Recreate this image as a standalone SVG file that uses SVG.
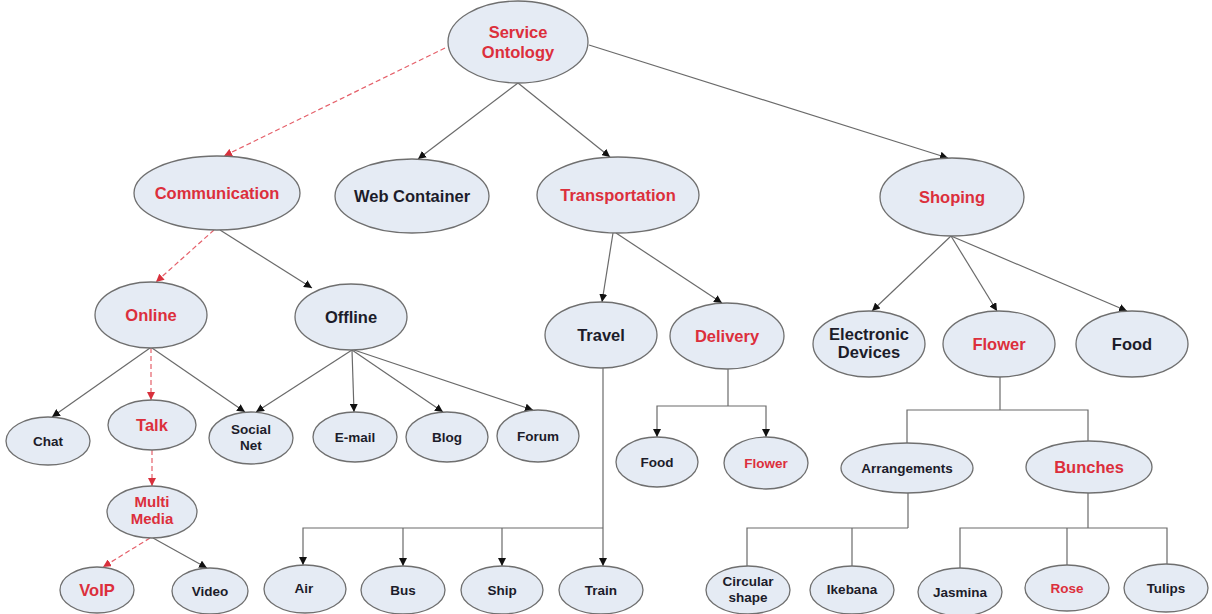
<svg xmlns="http://www.w3.org/2000/svg" width="1212" height="614" viewBox="0 0 1212 614">
  <defs>
    <marker id="arr" viewBox="0 0 10 10" refX="10" refY="5" markerWidth="8" markerHeight="8" markerUnits="userSpaceOnUse" orient="auto">
      <path d="M0,0 L10,5 L0,10 z" fill="#111"/>
    </marker>
    <marker id="arr-red" viewBox="0 0 10 10" refX="10" refY="5" markerWidth="8" markerHeight="8" markerUnits="userSpaceOnUse" orient="auto">
      <path d="M0,0 L10,5 L0,10 z" fill="#d8303c"/>
    </marker>
    <style>
      .node ellipse { fill: #e5ebf4; stroke: #6f6f6f; stroke-width: 1.3; }
      .node text { font-family: "Liberation Sans", Arial, sans-serif; font-weight: bold; text-anchor: middle; fill: #1c1c2a; }
      .node text.red { fill: #dc2f3c; }
      .big { font-size: 16.5px; }
      .mid { font-size: 15px; }
      .small { font-size: 13.5px; }
      .link { fill: none; stroke: #6a6a6a; stroke-width: 1.2; }
      .link.arrow { marker-end: url(#arr); }
      .link.dash { stroke: #e5606a; stroke-dasharray: 5 3; marker-end: url(#arr-red); }
    </style>
  </defs>
  <rect width="1212" height="614" fill="#ffffff"/>

  <g id="connectors">
    <!-- root level -->
    <line class="link dash" x1="445" y1="48" x2="224" y2="156"/>
    <line class="link arrow" x1="518" y1="83" x2="418" y2="159"/>
    <line class="link arrow" x1="518" y1="83" x2="610" y2="157"/>
    <line class="link arrow" x1="589" y1="45" x2="948" y2="158"/>
    <!-- communication -->
    <line class="link dash" x1="214" y1="230" x2="156" y2="282"/>
    <line class="link arrow" x1="220" y1="230" x2="312" y2="288"/>
    <line class="link arrow" x1="150" y1="348" x2="52" y2="417"/>
    <line class="link dash" x1="151" y1="348" x2="151" y2="400"/>
    <line class="link arrow" x1="152" y1="348" x2="245" y2="412"/>
    <line class="link arrow" x1="352" y1="350" x2="256" y2="412"/>
    <line class="link arrow" x1="352" y1="350" x2="354" y2="412"/>
    <line class="link arrow" x1="352" y1="350" x2="443" y2="412"/>
    <line class="link arrow" x1="354" y1="350" x2="533" y2="410"/>
    <line class="link dash" x1="152" y1="450" x2="152" y2="486"/>
    <line class="link dash" x1="150" y1="538" x2="103" y2="567"/>
    <line class="link arrow" x1="153" y1="538" x2="207" y2="568"/>
    <!-- transportation -->
    <line class="link arrow" x1="613" y1="233" x2="602" y2="302"/>
    <line class="link arrow" x1="616" y1="233" x2="722" y2="303"/>
    <line class="link arrow" x1="603" y1="368" x2="603" y2="566"/>
    <polyline class="link arrow" points="603,528 303,528 303,565"/>
    <line class="link arrow" x1="403" y1="528" x2="403" y2="566"/>
    <line class="link arrow" x1="502" y1="528" x2="502" y2="566"/>
    <line class="link" x1="728" y1="369" x2="728" y2="406"/>
    <polyline class="link arrow" points="728,406 657,406 657,437"/>
    <polyline class="link arrow" points="728,406 766,406 766,437"/>
    <!-- shopping -->
    <line class="link arrow" x1="951" y1="236" x2="872" y2="311"/>
    <line class="link arrow" x1="951" y1="236" x2="997" y2="311"/>
    <line class="link arrow" x1="951" y1="236" x2="1127" y2="311"/>
    <line class="link" x1="1000" y1="377" x2="1000" y2="410"/>
    <polyline class="link" points="907,443 907,410 1088,410 1088,441"/>
    <line class="link" x1="908" y1="493" x2="908" y2="528"/>
    <polyline class="link" points="747,566 747,528 908,528"/>
    <line class="link" x1="852" y1="528" x2="852" y2="566"/>
    <line class="link" x1="1088" y1="493" x2="1088" y2="528"/>
    <polyline class="link" points="960,568 960,528 1167,528 1167,564"/>
    <line class="link" x1="1067" y1="528" x2="1067" y2="565"/>
  </g>

  <g id="service-ontology" class="node"><ellipse cx="518" cy="42" rx="70" ry="41"/><text class="big red" x="518" y="38">Service</text><text class="big red" x="518" y="58">Ontology</text></g>

  <g id="communication" class="node"><ellipse cx="217" cy="193" rx="83" ry="37"/><text class="big red" x="217" y="199">Communication</text></g>
  <g id="web-container" class="node"><ellipse cx="412" cy="196" rx="77" ry="37"/><text class="big" x="412" y="202">Web Container</text></g>
  <g id="transportation" class="node"><ellipse cx="618" cy="195" rx="81" ry="38"/><text class="big red" x="618" y="201">Transportation</text></g>
  <g id="shoping" class="node"><ellipse cx="952" cy="197" rx="72" ry="39"/><text class="big red" x="952" y="203">Shoping</text></g>

  <g id="online" class="node"><ellipse cx="151" cy="315" rx="56" ry="33"/><text class="big red" x="151" y="321">Online</text></g>
  <g id="offline" class="node"><ellipse cx="351" cy="317" rx="56" ry="33"/><text class="big" x="351" y="323">Offline</text></g>
  <g id="travel" class="node"><ellipse cx="601" cy="335" rx="56" ry="33"/><text class="big" x="601" y="341">Travel</text></g>
  <g id="delivery" class="node"><ellipse cx="727" cy="336" rx="57" ry="33"/><text class="big red" x="727" y="342">Delivery</text></g>
  <g id="electronic-devices" class="node"><ellipse cx="869" cy="344" rx="56" ry="33"/><text class="big" x="869" y="340">Electronic</text><text class="big" x="869" y="358">Devices</text></g>
  <g id="flower" class="node"><ellipse cx="999" cy="344" rx="56" ry="33"/><text class="big red" x="999" y="350">Flower</text></g>
  <g id="food" class="node"><ellipse cx="1132" cy="344" rx="56" ry="33"/><text class="big" x="1132" y="350">Food</text></g>

  <g id="chat" class="node"><ellipse cx="48" cy="441" rx="42" ry="24"/><text class="small" x="48" y="446">Chat</text></g>
  <g id="talk" class="node"><ellipse cx="152" cy="425" rx="44" ry="25"/><text class="big red" x="152" y="431">Talk</text></g>
  <g id="social-net" class="node"><ellipse cx="251" cy="438" rx="42" ry="26"/><text class="small" x="251" y="434">Social</text><text class="small" x="251" y="450">Net</text></g>
  <g id="e-mail" class="node"><ellipse cx="355" cy="437" rx="42" ry="25"/><text class="small" x="355" y="442">E-mail</text></g>
  <g id="blog" class="node"><ellipse cx="447" cy="437" rx="41" ry="25"/><text class="small" x="447" y="442">Blog</text></g>
  <g id="forum" class="node"><ellipse cx="538" cy="436" rx="41" ry="26"/><text class="small" x="538" y="441">Forum</text></g>
  <g id="delivery-food" class="node"><ellipse cx="657" cy="462" rx="41" ry="25"/><text class="small" x="657" y="467">Food</text></g>
  <g id="delivery-flower" class="node"><ellipse cx="766" cy="463" rx="42" ry="26"/><text class="small red" x="766" y="468">Flower</text></g>
  <g id="arrangements" class="node"><ellipse cx="907" cy="468" rx="66" ry="25"/><text class="small" x="907" y="473">Arrangements</text></g>
  <g id="bunches" class="node"><ellipse cx="1089" cy="467" rx="63" ry="26"/><text class="big red" x="1089" y="473">Bunches</text></g>

  <g id="multi-media" class="node"><ellipse cx="152" cy="512" rx="45" ry="26"/><text class="mid red" x="152" y="507">Multi</text><text class="mid red" x="152" y="524">Media</text></g>

  <g id="voip" class="node"><ellipse cx="97" cy="590" rx="37" ry="23"/><text class="big red" x="97" y="596">VoIP</text></g>
  <g id="video" class="node"><ellipse cx="210" cy="591" rx="38" ry="23"/><text class="small" x="210" y="596">Video</text></g>
  <g id="air" class="node"><ellipse cx="305" cy="589" rx="41" ry="24"/><text class="small" x="304" y="593">Air</text></g>
  <g id="bus" class="node"><ellipse cx="403" cy="590" rx="42" ry="24"/><text class="small" x="403" y="595">Bus</text></g>
  <g id="ship" class="node"><ellipse cx="502" cy="590" rx="41" ry="24"/><text class="small" x="502" y="595">Ship</text></g>
  <g id="train" class="node"><ellipse cx="601" cy="590" rx="42" ry="24"/><text class="small" x="601" y="595">Train</text></g>
  <g id="circular-shape" class="node"><ellipse cx="748" cy="590" rx="42" ry="24"/><text class="small" x="748" y="586">Circular</text><text class="small" x="748" y="602">shape</text></g>
  <g id="ikebana" class="node"><ellipse cx="852" cy="590" rx="42" ry="24"/><text class="small" x="852" y="594">Ikebana</text></g>
  <g id="jasmina" class="node"><ellipse cx="960" cy="592" rx="42" ry="24"/><text class="small" x="960" y="597">Jasmina</text></g>
  <g id="rose" class="node"><ellipse cx="1067" cy="588" rx="42" ry="23"/><text class="small red" x="1067" y="593">Rose</text></g>
  <g id="tulips" class="node"><ellipse cx="1166" cy="588" rx="42" ry="24"/><text class="small" x="1166" y="593">Tulips</text></g>
</svg>
